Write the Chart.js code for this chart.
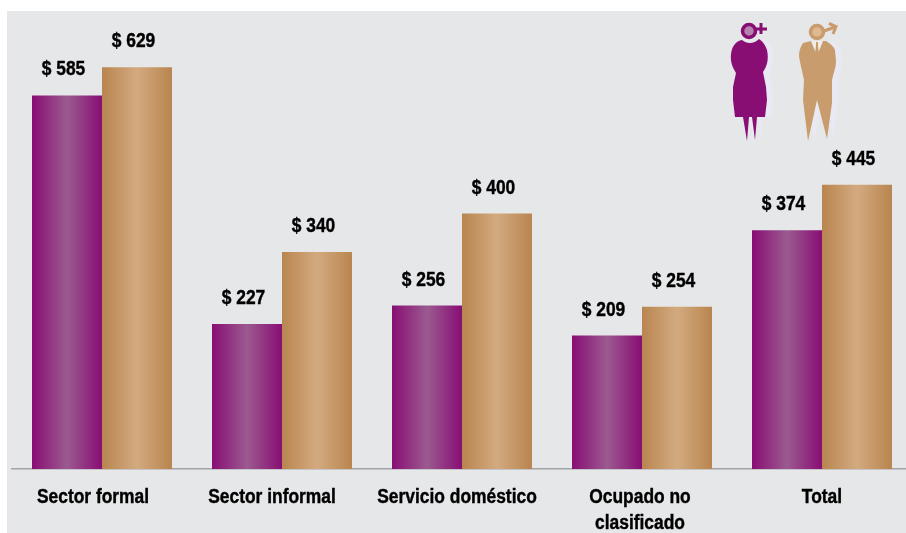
<!DOCTYPE html>
<html>
<head>
<meta charset="utf-8">
<style>
  html, body { margin: 0; padding: 0; background: #fff; overflow: hidden; width: 906px; height: 533px; }
  #wrap { position: relative; width: 906px; height: 533px; overflow: hidden; }
  #wrap canvas { position: absolute; left: 0; top: 0; }
  #icons { position: absolute; left: 700px; top: 0; }
</style>
<script src="https://cdn.jsdelivr.net/npm/chart.js@4"></script>
</head>
<body>
<div id="wrap">
  <div style="position:absolute;left:0;top:0;width:920px;height:533px"><canvas id="chart"></canvas></div>
  <svg id="icons" width="206" height="160" viewBox="0 0 206 160">
    <defs>
      <g id="mujer">
        <path d="M42 40 C36 41 32 46 31 54 C30 62 33 68 36 73 L33 87 L33 100 L35 117 L65 117 L67 100 L66 87 L63 72 C67 66 69 60 67 50 C65 44 62 41 59 39 C54 44 47 44 42 40 Z"/>
        <path d="M43 117 L47 141 L49 117 Z M52 117 L55 140 L57 117 Z"/>
      </g>
      <path id="hombre" d="M103 43 C100 47 99 52 99 56 C100 63 102 70 104 80 L103 100 L108 141 L117 100 L127 139 L132 103 L132 80 C134 72 136 67 136 61 L135 50 C133 45 129 43 126 41 L111 41 Z"/>
    </defs>
    <use href="#mujer" x="6" y="0" fill="#e9e9f3"/>
    <use href="#hombre" x="6" y="0" fill="#e9e9f3"/>
    <use href="#mujer" fill="#880e74"/>
    <circle cx="49" cy="31" r="6.500" fill="#b583ad" stroke="#880e74" stroke-width="3.500"/>
    <path d="M56 29 L67 29 M61 23 L61 34" fill="none" stroke="#880e74" stroke-width="3"/>
    <use href="#hombre" fill="#c99c6e"/>
    <path d="M111 41 L117 56 L123 41 Z" fill="#f0ece6"/>
    <path d="M116 42 L118 42 L118 46 L119 54 L117 57 L115 54 L116 46 Z" fill="#c99c6e"/>
    <circle cx="117" cy="32" r="6.500" fill="#dfb98f" stroke="#c99c6e" stroke-width="3.500"/>
    <path d="M124 31 L135 27 M129 23.500 L136 26.500 L133 34" fill="none" stroke="#c99c6e" stroke-width="3"/>
  </svg>
</div>
<script>
// Ingreso por sector, mujeres y hombres
const categories = ["Sector formal", "Sector informal", "Servicio doméstico", ["Ocupado no", "clasificado"], "Total"];
const mujeres = [585, 227, 256, 209, 374];
const hombres = [629, 340, 400, 254, 445];
const labelShift = [-9, -10, -5, -2, 0];

const FONT = "'Liberation Sans', sans-serif";
const CAT_PCT = 140 / 180;
const NARROW = 0.87; // no narrow face installed, squeeze the text instead

function barGradient(ctx, side, edge, mid) {
  const chart = ctx.chart;
  if (!chart.chartArea || ctx.dataIndex === undefined) return edge;
  const xs = chart.scales.x;
  const c = xs.getPixelForValue(ctx.dataIndex);
  const w = xs.width / categories.length * CAT_PCT / 2;
  const x0 = side === 0 ? c - w : c;
  const g = chart.ctx.createLinearGradient(x0, 0, x0 + w, 0);
  g.addColorStop(0, edge);
  g.addColorStop(0.5, mid);
  g.addColorStop(1, edge);
  return g;
}

// panel behind the chart, squeezed tick labels, "$ n" labels over the bars
const extras = {
  id: "extras",
  beforeDraw(chart) {
    const c = chart.ctx;
    c.save();
    c.fillStyle = "#e6e7e9";
    c.fillRect(7, 11, chart.width, chart.height);
    c.restore();
  },
  afterUpdate(chart) {
    const xs = chart.scales.x;
    xs.getLabelItems().forEach((it, i) => {
      it.options.translation[0] = (it.options.translation[0] + labelShift[i]) / NARROW;
    });
    // the label clip is in unscaled pixels, it would cut "Total"
    xs._computeLabelArea = () => undefined;
    const drawLabels = xs.drawLabels;
    xs.drawLabels = function (area) {
      const c = chart.ctx;
      c.save();
      c.scale(NARROW, 1);
      drawLabels.call(xs, area);
      c.restore();
    };
  },
  afterDatasetsDraw(chart) {
    const c = chart.ctx;
    c.save();
    c.font = "bold 20px " + FONT;
    c.fillStyle = "#000";
    c.strokeStyle = "#000";
    c.lineWidth = 0.4;
    c.textAlign = "center";
    c.textBaseline = "middle";
    chart.data.datasets.forEach((ds, d) => {
      chart.getDatasetMeta(d).data.forEach((bar, i) => {
        c.save();
        c.translate(bar.x - 3.5, bar.y - 25.5);
        c.scale(NARROW, 1);
        c.fillText("$ " + ds.data[i], 0, 0);
        c.strokeText("$ " + ds.data[i], 0, 0);
        c.restore();
      });
    });
    c.restore();
  }
};

new Chart(document.getElementById("chart"), {
  type: "bar",
  data: {
    labels: categories,
    datasets: [
      { label: "Mujeres", data: mujeres, backgroundColor: ctx => barGradient(ctx, 0, "#880e74", "#9b5a90") },
      { label: "Hombres", data: hombres, backgroundColor: ctx => barGradient(ctx, 1, "#b9854f", "#d3aa80") }
    ]
  },
  options: {
    responsive: true,
    maintainAspectRatio: false,
    animation: false,
    categoryPercentage: CAT_PCT,
    barPercentage: 1,
    layout: { padding: { left: 12, right: 8, top: 22, bottom: 0 } },
    plugins: { legend: { display: false }, tooltip: { enabled: false } },
    scales: {
      x: {
        afterFit(scale) { scale.height = 64; },
        grid: { display: false, drawTicks: false },
        border: { color: "#a3a4a6", width: 1.5 },
        ticks: {
          color: "#000",
          padding: 15,
          maxRotation: 0,
          autoSkip: false,
          textStrokeColor: "#000",
          textStrokeWidth: 0.4,
          font: { family: FONT, size: 20, weight: "bold", lineHeight: 1.3 }
        }
      },
      y: { display: false, min: 0, max: 700 }
    }
  },
  plugins: [extras]
});
</script>
</body>
</html>
